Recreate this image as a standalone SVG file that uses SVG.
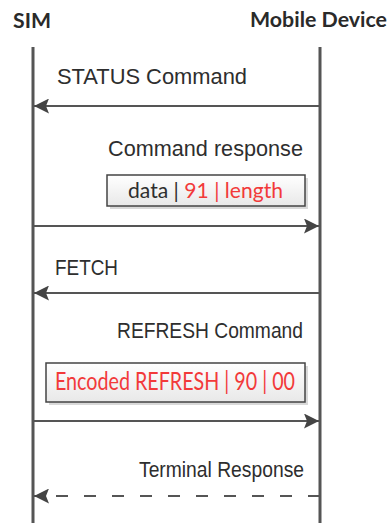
<svg xmlns="http://www.w3.org/2000/svg" width="390" height="525" viewBox="0 0 390 525">
  <defs>
    <marker id="arrow" viewBox="0 0 15 15" refX="15" refY="7.5" markerWidth="15" markerHeight="15" markerUnits="userSpaceOnUse" orient="auto">
      <path d="M0,0 L15,7.5 L0,15 L3,7.5 Z" fill="#444"/>
    </marker>
    <linearGradient id="boxFill" x1="0" y1="0" x2="0" y2="1">
      <stop offset="0" stop-color="#ffffff"/>
      <stop offset="1" stop-color="#e8e8e8"/>
    </linearGradient>
    <style>
      .head { font-family: Lato, "Open Sans", sans-serif; font-weight: bold; fill: #2a2a2a; }
      .label { font-family: "Liberation Sans", Arial, sans-serif; font-size: 21.5px; fill: #2e2e2e; }
      .payload { font-family: Lato, "Open Sans", sans-serif; fill: #2e2e2e; }
      .red { fill: #f23a3a; }
      .lifeline { stroke: #555; stroke-width: 3; }
      .msg { stroke: #555; stroke-width: 2; fill: none; marker-end: url(#arrow); }
      .dashed { stroke-dasharray: 12 16; }
      .box { fill: url(#boxFill); stroke: #444; stroke-width: 1.5; }
      .shadow { fill: #d9d9d9; }
    </style>
  </defs>

  <!-- participants -->
  <g id="sim">
    <text class="head" x="13" y="28" font-size="20" textLength="38" lengthAdjust="spacingAndGlyphs">SIM</text>
    <line class="lifeline" x1="33" y1="47" x2="33" y2="523"/>
  </g>
  <g id="mobile-device">
    <text class="head" x="250" y="27" font-size="21" textLength="137" lengthAdjust="spacingAndGlyphs">Mobile Device</text>
    <line class="lifeline" x1="320" y1="47" x2="320" y2="523"/>
  </g>

  <!-- messages -->
  <g id="connectors">
    <line class="msg" x1="320" y1="106" x2="34" y2="106"/>
    <line class="msg" x1="33" y1="226" x2="319" y2="226"/>
    <line class="msg" x1="320" y1="293" x2="34" y2="293"/>
    <line class="msg" x1="33" y1="421" x2="319" y2="421"/>
    <line class="msg dashed" x1="320" y1="496" x2="34" y2="496"/>
  </g>

  <g id="status-command">
    <text class="label" x="57" y="84" textLength="190" lengthAdjust="spacingAndGlyphs">STATUS Command</text>
  </g>

  <g id="command-response">
    <text class="label" x="108" y="156" textLength="195" lengthAdjust="spacingAndGlyphs">Command response</text>
    <rect class="shadow" x="110" y="178" width="198" height="31"/>
    <rect class="box" x="107" y="175" width="198" height="31"/>
    <text class="payload" x="128" y="198" font-size="20.5" textLength="155" lengthAdjust="spacingAndGlyphs">data | <tspan class="red">91 | length</tspan></text>
  </g>

  <g id="fetch">
    <text class="label" x="55" y="275" textLength="63" lengthAdjust="spacingAndGlyphs">FETCH</text>
  </g>

  <g id="refresh-command">
    <text class="label" x="117" y="338" textLength="186" lengthAdjust="spacingAndGlyphs">REFRESH Command</text>
    <rect class="shadow" x="49" y="366" width="259" height="39"/>
    <rect class="box" x="46" y="363" width="259" height="39"/>
    <text class="payload red" x="55" y="390" font-size="25" textLength="240" lengthAdjust="spacingAndGlyphs">Encoded REFRESH | 90 | 00</text>
  </g>

  <g id="terminal-response">
    <text class="label" x="139" y="477" textLength="165" lengthAdjust="spacingAndGlyphs">Terminal Response</text>
  </g>
</svg>
